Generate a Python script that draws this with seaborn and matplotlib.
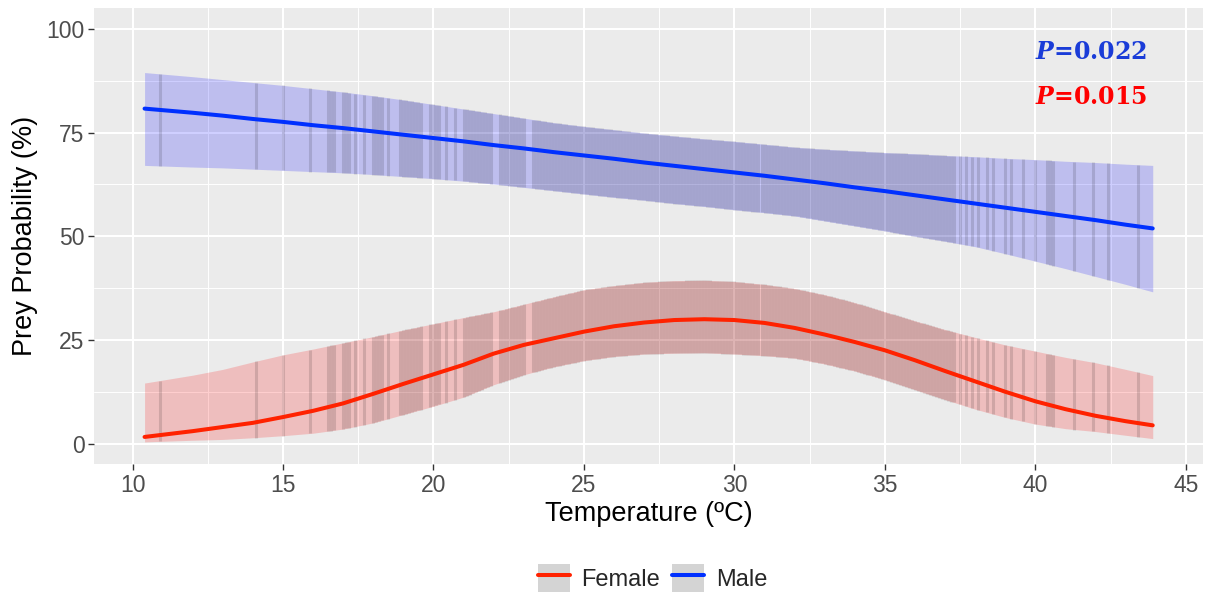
import numpy as np
import pandas as pd
import matplotlib
matplotlib.use("Agg")
import matplotlib.pyplot as plt
import seaborn as sns
from matplotlib.lines import Line2D
from matplotlib.patches import Patch

# ---------------- data ----------------
temp = [10.4, 12, 13, 14, 15, 16, 17, 18, 19, 20, 21, 22, 23, 24, 25, 26, 27, 28, 29,
        30, 31, 32, 33, 34, 35, 36, 37, 38, 39, 40, 41, 42, 43, 43.9]

male_fit = [80.8, 79.8, 79.1, 78.3, 77.6, 76.8, 76.1, 75.3, 74.5, 73.7, 72.9, 72.0,
            71.2, 70.3, 69.5, 68.7, 67.8, 67.0, 66.2, 65.4, 64.6, 63.7, 62.8, 61.8,
            60.9, 59.9, 58.9, 57.9, 56.9, 55.9, 54.9, 53.9, 52.8, 51.9]
male_upper = [89.5, 88.5, 87.8, 87.1, 86.4, 85.6, 84.8, 83.9, 82.9, 81.8, 80.7, 79.6,
              78.5, 77.4, 76.5, 75.7, 74.9, 74.2, 73.5, 72.9, 72.2, 71.5, 71.0, 70.6,
              70.2, 69.9, 69.5, 69.2, 68.8, 68.5, 68.1, 67.8, 67.4, 67.1]
male_lower = [67.1, 66.7, 66.5, 66.2, 65.9, 65.6, 65.3, 64.9, 64.4, 63.9, 63.3, 62.6,
              61.8, 61.0, 60.2, 59.4, 58.7, 57.9, 57.2, 56.4, 55.7, 54.9, 53.7, 52.5,
              51.3, 50.0, 48.8, 47.5, 45.8, 44.0, 42.2, 40.3, 38.4, 36.6]

female_fit = [1.6, 3.0, 4.0, 5.0, 6.4, 7.9, 9.7, 12.0, 14.4, 16.7, 19.0, 21.7, 23.8,
              25.4, 27.0, 28.3, 29.2, 29.8, 30.0, 29.8, 29.1, 27.9, 26.3, 24.5, 22.5,
              20.1, 17.5, 15.0, 12.5, 10.2, 8.3, 6.7, 5.4, 4.4]
female_upper = [14.6, 16.5, 17.9, 19.7, 21.4, 22.8, 24.3, 25.8, 27.4, 28.9, 30.4, 31.8,
                33.6, 35.4, 37.1, 38.1, 38.9, 39.3, 39.4, 39.1, 38.4, 37.4, 35.9, 34.0,
                31.8, 29.6, 27.5, 25.6, 23.8, 22.3, 20.8, 19.5, 17.9, 16.4]
female_lower = [0.4, 0.8, 1.0, 1.4, 1.9, 2.5, 3.5, 5.0, 7.0, 9.0, 11.2, 14.2, 16.6,
                18.5, 20.0, 21.0, 21.6, 21.8, 21.9, 21.6, 21.2, 20.6, 19.2, 17.5, 15.4,
                13.0, 10.6, 8.3, 6.3, 4.7, 3.6, 2.9, 2.0, 1.2]

# observed temperatures (positions of the vertical seams in the ribbons)
obs_temp = [
    10.9, 14.1, 15.0, 15.9, 16.5, 16.6, 16.7, 17.0, 17.1, 17.2, 17.4, 17.7, 18.0, 18.1,
    18.2, 18.3, 18.5,
    18.9, 19.0, 19.1, 19.2, 19.3, 19.4, 19.5, 19.6, 19.9,
    20.0, 20.1, 20.2, 20.4, 20.7, 21.0, 21.1, 21.2, 21.3, 21.4, 21.5, 21.6, 21.7, 21.8,
    21.9, 22.2, 22.3, 22.4, 22.5, 22.6, 22.7, 22.8, 22.9, 23.0,
    23.3, 23.4, 23.5, 23.6, 23.7, 23.8, 23.9, 24.0, 24.1, 24.2, 24.3, 24.4, 24.5, 24.6,
    24.7, 24.8, 24.9, 25.0, 25.1, 25.2, 25.3, 25.4, 25.5, 25.6, 25.7, 25.8, 25.9, 26.0,
    26.1, 26.2, 26.3, 26.4, 26.5, 26.6, 26.7, 26.8, 26.9, 27.0, 27.1, 27.2, 27.3, 27.4,
    27.5, 27.6, 27.7, 27.8, 27.9, 28.0, 28.1, 28.2, 28.3, 28.4, 28.5, 28.6, 28.7, 28.8,
    28.9, 29.0, 29.1, 29.2, 29.3, 29.4, 29.5, 29.6, 29.7, 29.8, 29.9, 30.0, 30.1, 30.2,
    30.3, 30.4, 30.5, 30.6, 30.7, 30.8, 30.9, 31.0, 31.1, 31.2, 31.3, 31.4, 31.5, 31.6,
    31.7, 31.8, 31.9, 32.0, 32.1, 32.2, 32.3, 32.4, 32.5, 32.6, 32.7, 32.8, 32.9, 33.0,
    33.1, 33.2, 33.3, 33.4, 33.5, 33.6, 33.7, 33.8, 33.9, 34.0, 34.1, 34.2, 34.3, 34.4,
    34.5, 34.6, 34.7, 34.8, 34.9, 35.0, 35.1, 35.2, 35.3, 35.4, 35.5, 35.6, 35.7, 35.8,
    35.9, 36.0, 36.1, 36.2, 36.3, 36.4, 36.5, 36.6, 36.7, 36.8, 36.9, 37.0, 37.1,
    37.2, 37.3, 37.5, 37.7, 37.9, 38.1, 38.4, 38.6, 39.0, 39.2, 39.6, 40.0, 40.4, 40.5,
    40.6, 41.3, 41.9, 42.4, 43.4,
]

sexes = ["Female", "Male"]
line_colors = {"Female": "#ff2200", "Male": "#0030ff"}
fill_colors = {"Female": "#ff0000", "Male": "#0000ff"}
x_ticks = [10, 15, 20, 25, 30, 35, 40, 45]
y_ticks = [0, 25, 50, 75, 100]
p_labels = [("0.022", "#1a3cd8", 94.5), ("0.015", "#ff0000", 83.7)]

# ---------------- figure ----------------
sns.set_theme(style="darkgrid", rc={
    "axes.facecolor": "#EBEBEB",
    "grid.color": "white",
    "axes.edgecolor": "#EBEBEB",
})
plt.rcParams["font.family"] = ["Liberation Sans", "DejaVu Sans"]
plt.rcParams["mathtext.fontset"] = "dejavuserif"

fig = plt.figure(figsize=(12.06, 5.92), dpi=100)
ax = fig.add_axes([0.0782, 0.2157, 0.9975 - 0.0782, 0.986 - 0.2157])

df = pd.concat([
    pd.DataFrame({"Temperature": temp, "Probability": female_fit, "Sex": "Female"}),
    pd.DataFrame({"Temperature": temp, "Probability": male_fit, "Sex": "Male"}),
])

bands = {"Female": (female_lower, female_upper), "Male": (male_lower, male_upper)}
for s in sexes:
    lo, hi = bands[s]
    ax.fill_between(temp, lo, hi, color=fill_colors[s], alpha=0.19, lw=0, zorder=2)
    ymin = np.interp(obs_temp, temp, lo)
    ymax = np.interp(obs_temp, temp, hi)
    ax.vlines(obs_temp, ymin, ymax, color="black", alpha=0.13, lw=2.2, zorder=2.1)

sns.lineplot(data=df, x="Temperature", y="Probability", hue="Sex",
             palette=line_colors, lw=2.9, legend=False, ax=ax, zorder=3)

ax.set_xlim(8.73, 45.57)
ax.set_ylim(-5, 105)
ax.set_xticks(x_ticks)
ax.set_yticks(y_ticks)
ax.set_xticks([12.5, 17.5, 22.5, 27.5, 32.5, 37.5, 42.5], minor=True)
ax.set_yticks([12.5, 37.5, 62.5, 87.5], minor=True)
ax.grid(which="major", color="white", lw=1.5)
ax.grid(which="minor", color="white", lw=0.7)
ax.tick_params(axis="both", which="major", length=4, width=1.0, color="#333333",
               labelsize=16.5, labelcolor="#4D4D4D", pad=3, left=True, bottom=True)
ax.tick_params(which="minor", length=0)
for sp in ax.spines.values():
    sp.set_visible(False)

ax.set_xlabel("Temperature (ºC)", fontsize=19.5, color="black", labelpad=3)
ax.set_ylabel("Prey Probability (%)", fontsize=19.5, color="black", labelpad=6)

for val, col, yv in p_labels:
    ax.text(40.0, yv, r"$\mathbfit{P}$" + "=" + val, color=col, fontsize=17,
            fontweight="bold", family="DejaVu Serif", ha="left", va="center", zorder=5)

handles = [(Patch(facecolor="#D4D4D4", edgecolor="none"),
            Line2D([], [], color=line_colors[s], lw=2.9)) for s in sexes]
fig.legend(handles, sexes, loc="center", bbox_to_anchor=(0.541, 0.024), ncol=2,
           frameon=False, fontsize=17, handlelength=1.36, handleheight=1.45,
           handletextpad=0.5, columnspacing=0.5)

fig.savefig("out.png", dpi=100)
